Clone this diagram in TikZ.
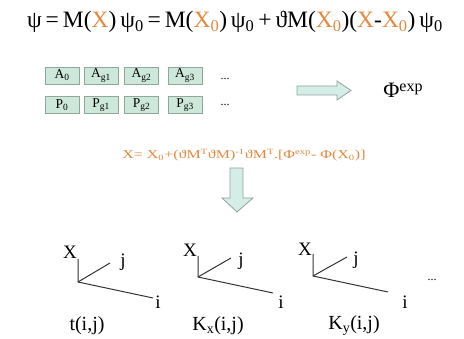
\documentclass[tikz,border=0pt]{standalone}
\usepackage{fontspec}
\setmainfont{Liberation Serif}
\definecolor{org}{HTML}{E5873C}
\definecolor{boxfill}{HTML}{CDE8DA}
\definecolor{boxline}{HTML}{8FA89C}
\definecolor{arrfill}{HTML}{D4EEE7}
\definecolor{arrline}{HTML}{8FA39B}
\definecolor{axis}{HTML}{333333}
\tikzset{
  cell/.style={draw=boxline, fill=boxfill, line width=0.8pt, minimum width=34pt, minimum height=17pt, inner sep=0pt, font=\fontsize{13.5}{15}\selectfont},
  bigarrow/.style={draw=arrline, fill=arrfill, line width=0.8pt},
  axline/.style={draw=axis, line width=1pt},
  axlab/.style={inner sep=0pt, font=\fontsize{19}{22}\selectfont},
  caption/.style={inner sep=0pt, font=\fontsize{20}{24}\selectfont},
}
\begin{document}
\begin{tikzpicture}[x=1pt,y=-1pt]
\useasboundingbox (0,0) rectangle (464,339);
% top formula
\node[inner sep=0pt, font=\fontsize{23.5}{27}\selectfont] (top) at (235,22)
 {ψ\,=\,M(\textcolor{org}{X})\,ψ\textsubscript{0}\,=\,M(\textcolor{org}{X\textsubscript{0}})\,ψ\textsubscript{0}\,+\,ϑM(\textcolor{org}{X\textsubscript{0}})(\textcolor{org}{X}-\textcolor{org}{X\textsubscript{0}})\,ψ\textsubscript{0}};
% boxes
\node[cell] (a0) at (62,75.5) {A\textsubscript{0}};
\node[cell] (a1) at (101,75.5) {A\textsubscript{g1}};
\node[cell] (a2) at (141.5,75.5) {A\textsubscript{g2}};
\node[cell] (a3) at (185,75.5) {A\textsubscript{g3}};
\node[cell] (p0) at (62,105) {P\textsubscript{0}};
\node[cell] (p1) at (101,105) {P\textsubscript{g1}};
\node[cell] (p2) at (141.5,105) {P\textsubscript{g2}};
\node[cell] (p3) at (185,105) {P\textsubscript{g3}};
\node[inner sep=0pt, font=\fontsize{12}{14}\selectfont] (ad) at (225,79) {...};
\node[inner sep=0pt, font=\fontsize{12}{14}\selectfont] (pd) at (225,105) {...};
% right arrow
\draw[bigarrow] (297,86) -- (337,86) -- (337,81) -- (351,90.5) -- (337,100) -- (337,95) -- (297,95) -- cycle;
\node[inner sep=0pt, font=\fontsize{22}{26}\selectfont] (phi) at (403,90) {Φ{\fontsize{16}{18}\selectfont\raisebox{6pt}{exp}}};
% orange formula
\node[inner sep=0pt, text=org, font=\fontsize{12}{14}\selectfont, xscale=1.33, transform shape] (upd) at (244,155)
 {X= X\textsubscript{0}+(ϑM\textsuperscript{T}ϑM)\textsuperscript{-1}ϑM\textsuperscript{T}.[Φ\textsuperscript{exp}- Φ(X\textsubscript{0})]};
% down arrow
\draw[bigarrow] (230,168) -- (243,168) -- (243,198) -- (253,198) -- (237,212) -- (222,198) -- (230,198) -- cycle;
% axes 1
\coordinate (o1) at (78,282); \coordinate (x1) at (78,259);
\coordinate (j1) at (110,263); \coordinate (i1) at (153,298);
\draw[axline] (x1) -- (o1) -- (i1); \draw[axline] (o1) -- (j1);
\node[axlab] (X1) at (70,252) {X};
\node[axlab] (J1) at (123,262) {j};
\node[axlab] (I1) at (158,302) {i};
\node[caption] (c1) at (87,326) {t(i,j)};
% axes 2
\coordinate (o2) at (198,277); \coordinate (x2) at (198,256);
\coordinate (j2) at (231,258); \coordinate (i2) at (273,293);
\draw[axline] (x2) -- (o2) -- (i2); \draw[axline] (o2) -- (j2);
\node[axlab] (X2) at (190,250) {X};
\node[axlab] (J2) at (241,261) {j};
\node[axlab] (I2) at (281,302) {i};
\node[caption] (c2) at (218,326) {K\textsubscript{x}(i,j)};
% axes 3
\coordinate (o3) at (313,276); \coordinate (x3) at (313,254);
\coordinate (j3) at (347,257); \coordinate (i3) at (388,292);
\draw[axline] (x3) -- (o3) -- (i3); \draw[axline] (o3) -- (j3);
\node[axlab] (X3) at (305,249) {X};
\node[axlab] (J3) at (356,260) {j};
\node[axlab] (I3) at (405,302) {i};
\node[caption] (c3) at (354,326) {K\textsubscript{y}(i,j)};
\node[inner sep=0pt, font=\fontsize{12}{14}\selectfont] (ed) at (432,280) {...};
\end{tikzpicture}
\end{document}
